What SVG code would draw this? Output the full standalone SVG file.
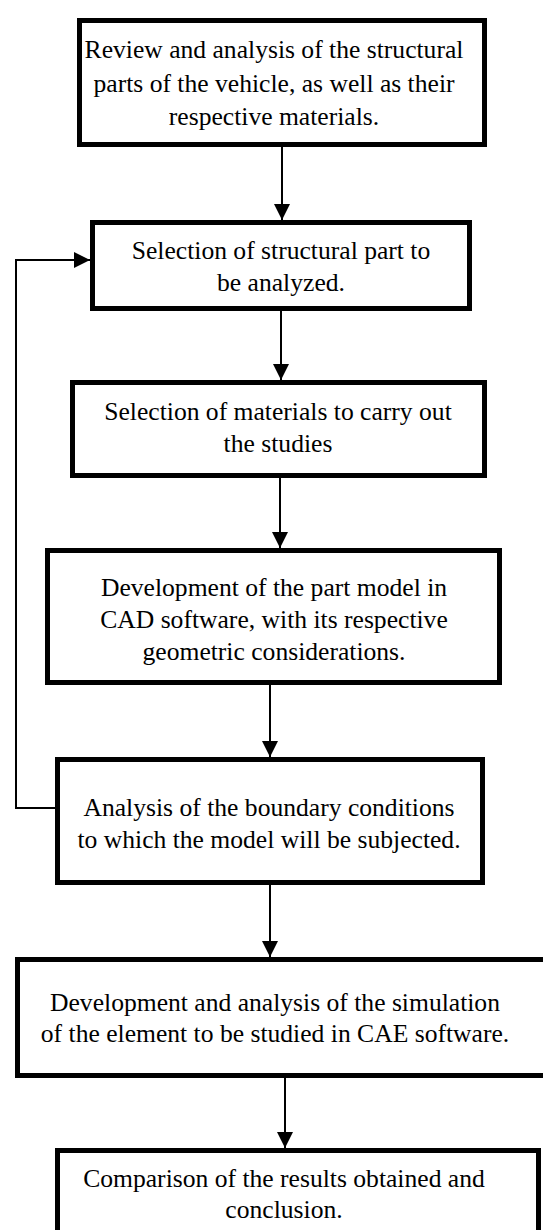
<svg xmlns="http://www.w3.org/2000/svg" width="543" height="1230" viewBox="0 0 543 1230">
<style>
.box{fill:#fff;stroke:#000;stroke-width:5}
.t{font-family:"Liberation Serif","Times New Roman",serif;font-size:25.6px;fill:#000;text-anchor:middle}
.c{fill:none;stroke:#000;stroke-width:2}
</style>
<defs>
<marker id="ah" viewBox="0 0 16 16" refX="16" refY="8" markerWidth="16" markerHeight="16" markerUnits="userSpaceOnUse" orient="auto">
<path d="M0,0 L16,8 L0,16 Z" fill="#000"/>
</marker>
</defs>
<rect width="543" height="1230" fill="#fff"/>
<g id="n1">
<rect class="box" x="79.5" y="20.5" width="405" height="124"/>
<text class="t" x="274" y="58">Review and analysis of the structural</text>
<text class="t" x="274" y="91.5">parts of the vehicle, as well as their</text>
<text class="t" x="274" y="125">respective materials.</text>
</g>
<g id="n2">
<rect class="box" x="92.5" y="222.5" width="377" height="86"/>
<text class="t" x="281" y="259">Selection of structural part to</text>
<text class="t" x="281" y="291">be analyzed.</text>
</g>
<g id="n3">
<rect class="box" x="72.5" y="382.5" width="412" height="93"/>
<text class="t" x="278" y="420">Selection of materials to carry out</text>
<text class="t" x="278" y="452">the studies</text>
</g>
<g id="n4">
<rect class="box" x="47.5" y="550.5" width="452" height="132"/>
<text class="t" x="274" y="596">Development of the part model in</text>
<text class="t" x="274" y="628">CAD software, with its respective</text>
<text class="t" x="274" y="660">geometric considerations.</text>
</g>
<g id="n5">
<rect class="box" x="57.5" y="759.5" width="425" height="123"/>
<text class="t" x="269" y="816">Analysis of the boundary conditions</text>
<text class="t" x="269" y="848">to which the model will be subjected.</text>
</g>
<g id="n6">
<rect class="box" x="17.5" y="959.5" width="545" height="116"/>
<text class="t" x="275" y="1011">Development and analysis of the simulation</text>
<text class="t" x="275" y="1042">of the element to be studied in CAE software.</text>
</g>
<g id="n7">
<rect class="box" x="57.5" y="1150.5" width="481" height="100"/>
<text class="t" x="284" y="1187">Comparison of the results obtained and</text>
<text class="t" x="284" y="1218">conclusion.</text>
</g>
<g id="connectors">
<line class="c" x1="282" y1="147" x2="282" y2="220" marker-end="url(#ah)"/>
<line class="c" x1="281" y1="311" x2="281" y2="380" marker-end="url(#ah)"/>
<line class="c" x1="280" y1="478" x2="280" y2="548" marker-end="url(#ah)"/>
<line class="c" x1="270" y1="685" x2="270" y2="757" marker-end="url(#ah)"/>
<line class="c" x1="270" y1="885" x2="270" y2="957" marker-end="url(#ah)"/>
<line class="c" x1="285" y1="1078" x2="285" y2="1148" marker-end="url(#ah)"/>
<polyline class="c" points="55,808 16,808 16,260 90,260" marker-end="url(#ah)"/>
</g>
</svg>
